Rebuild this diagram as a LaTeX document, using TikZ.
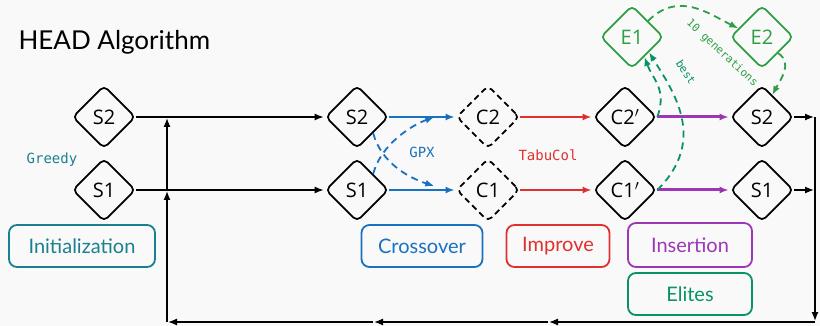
\documentclass[tikz,border=0pt]{standalone}
\usepackage{fontspec}
\usepackage{tikz}
\usetikzlibrary{shapes.geometric}
\usetikzlibrary{arrows.meta,positioning,calc}
\setmainfont{Open Sans}
\newfontfamily\handfont{Lato}
\newfontfamily\codefont{DejaVu Sans Mono}
\definecolor{bgc}{HTML}{F9F9F9}
\definecolor{initc}{HTML}{1A7F8E}
\definecolor{gpxc}{HTML}{1971C2}
\definecolor{tabuc}{HTML}{E03131}
\definecolor{insc}{HTML}{9C36B5}
\definecolor{elitec}{HTML}{2F9E44}
\definecolor{bestc}{HTML}{099268}

\begin{document}
\begin{tikzpicture}[-,auto,x=1pt,y=-1pt,>={Latex[length=9pt,width=7pt]}]
\tikzstyle{vertex}=[diamond,draw=black,line width=1.7pt,rounded corners=5pt,minimum size=63pt,inner sep=0pt,font=\fontsize{20}{22}\selectfont]
\tikzstyle{box}=[rectangle,line width=1.8pt,rounded corners=8pt,minimum height=42pt,font=\handfont\fontsize{20}{22}\selectfont]
\tikzstyle{code}=[font=\codefont\fontsize{14}{16}\selectfont]
\tikzstyle{line}=[->,line width=1.3pt,shorten >=1pt]
\tikzstyle{dashflow}=[line width=1.8pt,dash pattern=on 7pt off 5pt]

\fill[bgc] (0,0) rectangle (820,326);
\useasboundingbox (0,0) rectangle (820,326);

\node [anchor=west,font=\handfont\fontsize{26}{28}\selectfont] (title) at(15,42) {HEAD Algorithm};

\node [vertex] (S2) at(104,117) {S2};
\node [vertex] (S1) at(104,190) {S1};
\node [vertex] (X2) at(357,117) {S2};
\node [vertex] (X1) at(357,190) {S1};
\node [vertex,dash pattern=on 6pt off 4pt] (C2) at(488,117) {C2};
\node [vertex,dash pattern=on 6pt off 4pt] (C1) at(488,190) {C1};
\node [vertex] (D2) at(625,117) {C2$'$};
\node [vertex] (D1) at(625,190) {C1$'$};
\node [vertex] (N2) at(762,117) {S2};
\node [vertex] (N1) at(762,190) {S1};
\node [vertex,draw=elitec,text=elitec] (E1) at(632,37) {E1};
\node [vertex,draw=elitec,text=elitec] (E2) at(762,37) {E2};

\node [box,draw=initc,text=initc,minimum width=146pt] (init) at(82,246) {Initialization};
\node [box,draw=gpxc,text=gpxc,minimum width=121pt] (cross) at(422,246) {Crossover};
\node [box,draw=tabuc,text=tabuc,minimum width=103pt] (impr) at(558,246) {Improve};
\node [box,draw=insc,text=insc,minimum width=124pt,minimum height=44pt] (ins) at(690,245) {Insertion};
\node [box,draw=bestc,text=bestc,minimum width=124pt] (elites) at(690,294) {Elites};

\node [code,text=initc] (greedy) at(52,160) {Greedy};
\node [code,text=gpxc] (gpx) at(422,152) {GPX};
\node [code,text=tabuc] (tabu) at(548,155) {TabuCol};
\node [code,text=bestc,rotate=-57,font=\codefont\fontsize{11}{12}\selectfont] (best) at(686,72) {best};
\node [code,text=elitec,rotate=-43,font=\codefont\fontsize{11}{12}\selectfont] (gens) at(722,53) {10 generations};

\coordinate (r2) at(815,117);
\coordinate (r1) at(815,190);
\coordinate (rb) at(815,322);
\coordinate (m2) at(548,322);
\coordinate (m1) at(373,322);
\coordinate (lb) at(167,322);
\coordinate (l1) at(167,190);
\coordinate (l2) at(167,117);

\path[line] (S2) edge (X2);
\path[line] (S1) edge (X1);
\path[line] (N2.east) edge (r2);
\path[line] (N1.east) edge (r1);
\path[line] (r2) edge (rb);
\path[line] (rb) edge (m2);
\path[line] (m2) edge (m1);
\path[line] (m1) edge (lb);
\path[line] (lb) edge (l1);
\path[line] (l1) edge (l2);

\path[line,draw=gpxc,line width=1.8pt] (X2) edge (C2);
\path[line,draw=gpxc,line width=1.8pt] (X1) edge (C1);
\draw[->,dashflow,gpxc] (X1.north east) .. controls +(8,-30) and +(-22,8) .. ($(X2)!0.59!(C2)$);
\draw[->,dashflow,gpxc] (X2.south east) .. controls +(8,30) and +(-25,-8) .. ($(X1)!0.59!(C1)+(0,-4)$);

\path[line,draw=tabuc,line width=1.8pt] (C2) edge (D2);
\path[line,draw=tabuc,line width=1.8pt] (C1) edge (D1);

\path[line,draw=insc,line width=3pt] (D2) edge (N2);
\path[line,draw=insc,line width=3pt] (D1) edge (N1);

\draw[->,dashflow,bestc] (D2.east) .. controls +(10,-28) and +(8,22) .. (E1.-58);
\draw[->,dashflow,bestc] (D1.east) .. controls +(50,-50) and +(25,40) .. (E1.-42);
\draw[->,dashflow,elitec] (E1.north east) .. controls +(30,-30) and +(-30,-15) .. (E2.160);
\draw[->,dashflow,elitec] (E2.south east) .. controls +(15,10) and +(8,-15) .. (N2.65);
\end{tikzpicture}
\end{document}
